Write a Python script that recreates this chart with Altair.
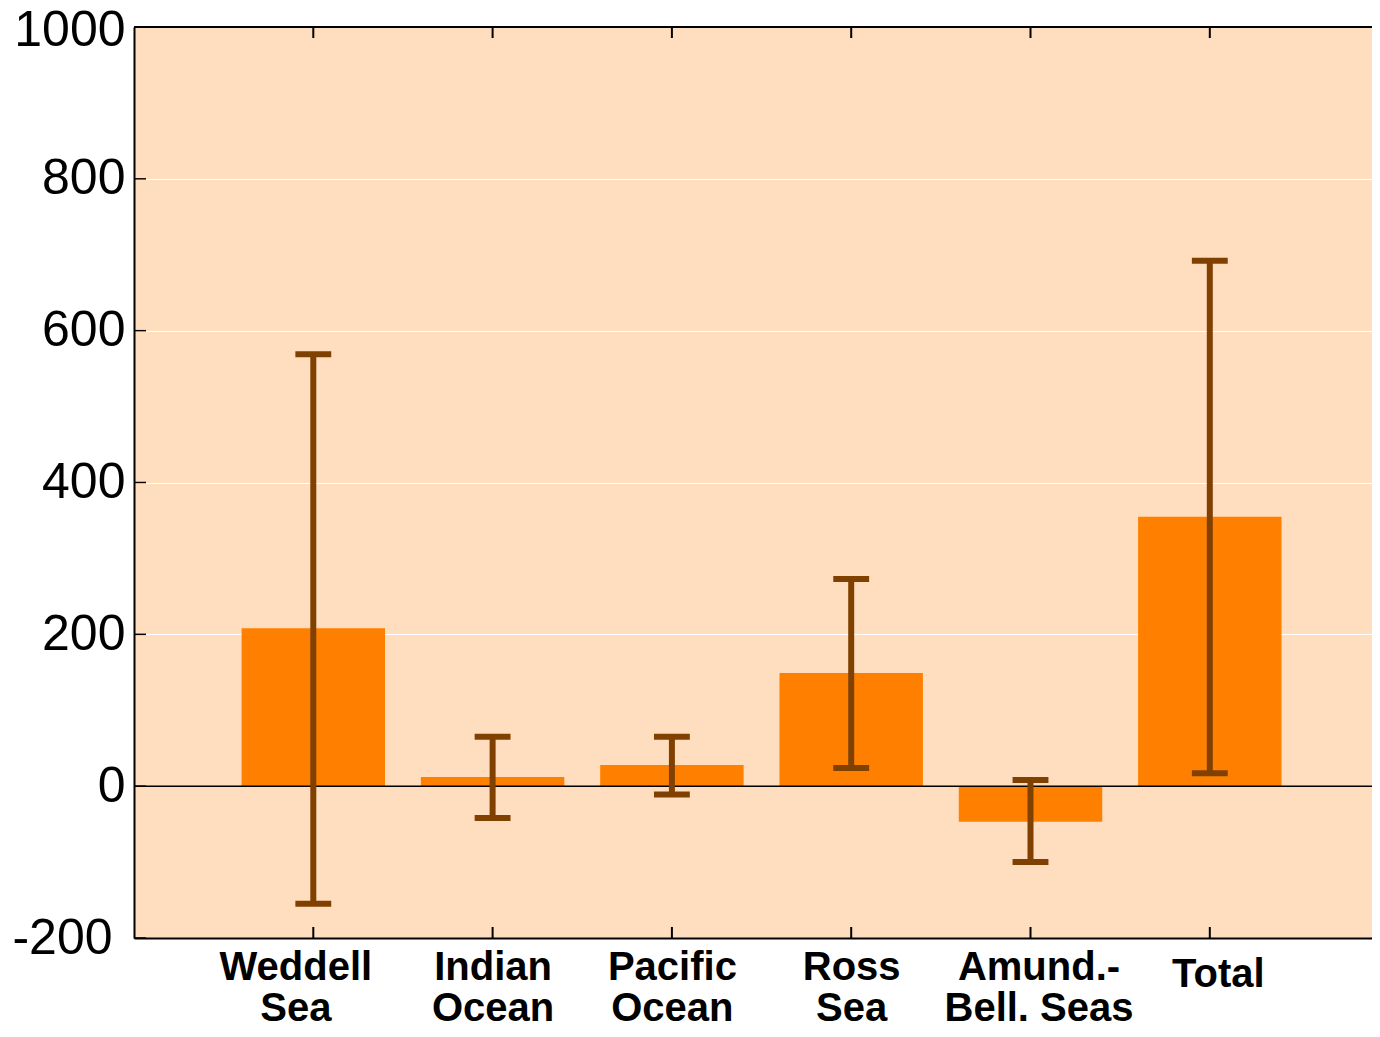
import altair as alt
import pandas as pd

# ---- data ----
labels = ["Weddell\nSea", "Indian\nOcean", "Pacific\nOcean", "Ross\nSea", "Amund.-\nBell. Seas", "Total"]
positions = [1, 2, 3, 4, 5, 6]
values = [208, 12, 28, 149, -47, 355]
err_lo = [-155, -42, -11, 24, -100, 17]
err_hi = [569, 65, 65, 273, 8, 692]
y_ticks = [-200, 0, 200, 400, 600, 800, 1000]

BAR_HALF = 0.4
CAP_HALF = 0.1
W, H = 1238, 911
STEP = 179.3

df = pd.DataFrame({
    "pos": positions,
    "label": labels,
    "value": values,
    "lo": err_lo,
    "hi": err_hi,
})
df["bl"] = df["pos"] - BAR_HALF
df["br"] = df["pos"] + BAR_HALF
df["cl"] = df["pos"] - CAP_HALF
df["cr"] = df["pos"] + CAP_HALF

ticks_df = pd.DataFrame({"tv": y_ticks})

label_js = "[" + ",".join(["''"] + ["'" + l.replace("\n", "|") + "'" for l in labels]) + "]"

xscale = alt.Scale(domain=[0, W / STEP], nice=False, zero=False)
yscale = alt.Scale(domain=[-200, 1000], nice=False, zero=False)

xaxis = alt.Axis(
    values=positions,
    labelExpr=f"split({label_js}[datum.value], '|')",
    title=None,
    grid=False,
    ticks=False,
    domain=True,
    domainColor="black",
    domainWidth=2,
    labelFont="Liberation Sans",
    labelFontWeight="bold",
    labelFontSize=40,
    labelColor="black",
    labelLineHeight=41,
    labelPadding={"condition": {"test": "datum.value == 6", "value": 16}, "value": 9},
    labelLimit=400,
    labelOffset={"condition": [
        {"test": "datum.value == 1", "value": -18},
        {"test": "datum.value >= 5", "value": 8},
    ], "value": 0},
)
yaxis = alt.Axis(
    values=y_ticks,
    labelExpr="'' + datum.value",
    title=None,
    grid=True,
    gridColor="white",
    gridWidth=1,
    ticks=False,
    domain=True,
    domainColor="black",
    domainWidth=2,
    labelFont="Liberation Sans",
    labelFontSize=50,
    labelColor="black",
    labelPadding={"condition": {"test": "datum.value < 0", "value": 22}, "value": 9},
    labelOffset={"condition": {"test": "datum.value == 1000", "value": 3}, "value": 0},
    labelLimit=200,
)

base = alt.Chart(df)

bars = base.mark_rect(color="#FF8000").encode(
    x=alt.X("bl:Q", scale=xscale, axis=xaxis),
    x2="br:Q",
    y=alt.Y("value:Q", scale=yscale, axis=yaxis),
    y2=alt.datum(0),
)

zero = alt.Chart(pd.DataFrame({"z": [0]})).mark_rule(color="black", strokeWidth=1.5).encode(
    y=alt.Y("z:Q", scale=yscale, axis=yaxis)
)

err = base.mark_rule(color="#804000", strokeWidth=6).encode(
    x=alt.X("pos:Q", scale=xscale, axis=xaxis),
    y=alt.Y("lo:Q", scale=yscale, axis=yaxis),
    y2="hi:Q",
)
cap_hi = base.mark_rule(color="#804000", strokeWidth=6).encode(
    x=alt.X("cl:Q", scale=xscale, axis=xaxis),
    x2="cr:Q",
    y=alt.Y("hi:Q", scale=yscale, axis=yaxis),
)
cap_lo = base.mark_rule(color="#804000", strokeWidth=6).encode(
    x=alt.X("cl:Q", scale=xscale, axis=xaxis),
    x2="cr:Q",
    y=alt.Y("lo:Q", scale=yscale, axis=yaxis),
)

tick_top = base.mark_rule(color="black", strokeWidth=2).encode(
    x=alt.X("pos:Q", scale=xscale, axis=xaxis),
    y=alt.value(0),
    y2=alt.value(11),
)
tick_bot = base.mark_rule(color="black", strokeWidth=2).encode(
    x=alt.X("pos:Q", scale=xscale, axis=xaxis),
    y=alt.value(H - 11),
    y2=alt.value(H),
)
tick_left = alt.Chart(ticks_df).mark_rule(color="black", strokeWidth=1.5).encode(
    y=alt.Y("tv:Q", scale=yscale, axis=yaxis),
    x=alt.value(0),
    x2=alt.value(12),
)
top_border = alt.Chart(pd.DataFrame({"z": [0]})).mark_rule(color="black", strokeWidth=2).encode(
    y=alt.value(0),
    x=alt.value(0),
    x2=alt.value(W),
)

chart = alt.layer(
    bars, zero, err, cap_hi, cap_lo, tick_top, tick_bot, tick_left, top_border
).properties(
    width=W,
    height=H,
    padding={"left": 126, "top": 19, "right": 0, "bottom": 91},
    autosize=alt.AutoSizeParams(type="none"),
).configure_view(
    fill="#FFDEBF",
    stroke=None,
)

chart.save("out.html", embed_options={"renderer": "svg", "actions": False})
